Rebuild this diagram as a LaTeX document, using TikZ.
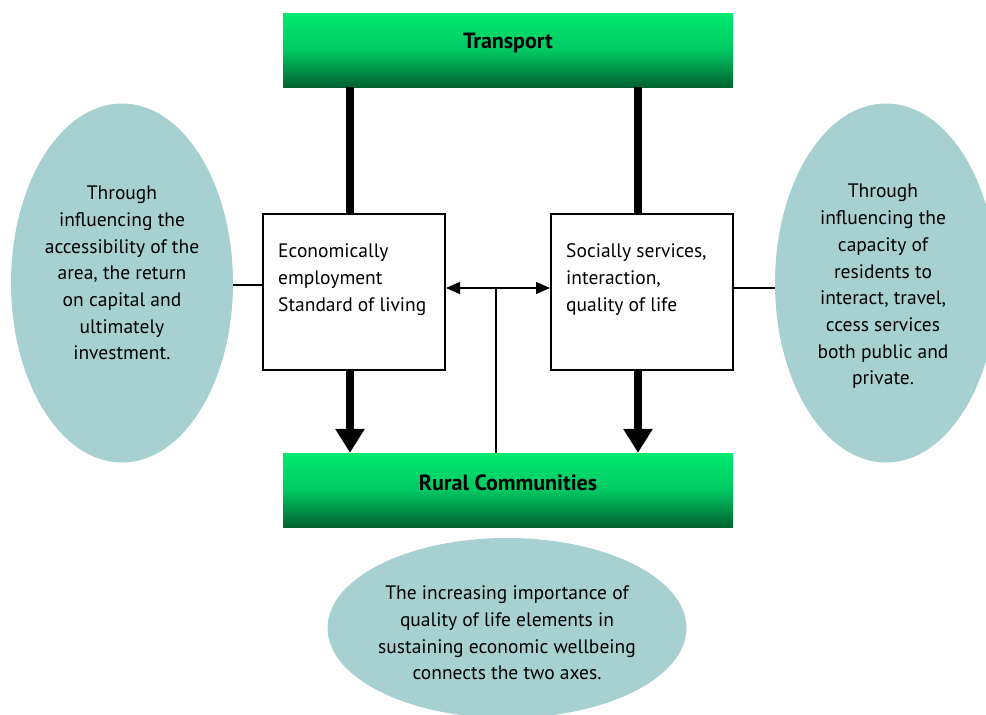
\documentclass[tikz,border=0pt]{standalone}
\usepackage{fontspec}
\setmainfont{PT Sans}
\usetikzlibrary{shapes.geometric,arrows.meta}
\definecolor{gtop}{RGB}{0,234,112}
\definecolor{gmid}{RGB}{0,200,98}
\definecolor{gbot}{RGB}{0,98,48}
\definecolor{oval}{RGB}{166,209,208}
\tikzset{
  greenbar/.style={rectangle, minimum width=450pt, minimum height=74pt, inner sep=0pt,
    top color=gtop, bottom color=gbot, middle color=gmid},
  bartext/.style={inner sep=0pt, font=\fontsize{22}{26}\selectfont\bfseries},
  midbox/.style={rectangle, draw=black, line width=2pt, fill=white, minimum width=182pt, minimum height=156pt, inner sep=0pt},
  boxtext/.style={anchor=north west, align=left, inner sep=0pt, font=\fontsize{19.5}{27}\selectfont},
  oval/.style={ellipse, fill=oval, inner sep=0pt},
  ovaltext/.style={align=center, inner sep=0pt, font=\fontsize{19.5}{26.7}\selectfont},
  thin/.style={line width=1.2pt, draw=black},
  thick/.style={line width=8pt, draw=black},
  bigarrow/.style={thick, -{Triangle[width=28pt,length=24pt]}},
  dblarrow/.style={thin, {Triangle[width=12pt,length=14pt]}-{Triangle[width=12pt,length=14pt]}}
}
\begin{document}
\begin{tikzpicture}[x=1pt,y=-1pt]
\useasboundingbox (0,0) rectangle (986,715);
\begin{scope}
\clip (0,0) rectangle (986,715);
% ellipses
\node[oval, minimum width=222pt, minimum height=359pt] (lell) at (122,283) {};
\node[oval, minimum width=222pt, minimum height=359pt] (rell) at (886,283) {};
\node[oval, minimum width=359pt, minimum height=180pt] (bell) at (507,628) {};
\end{scope}
\node[ovaltext] (lelltext) at (122,273)
  {Through\\influencing the\\accessibility of the\\area, the return\\on capital and\\ultimately\\investment.};
\node[ovaltext] (relltext) at (883,286.5)
  {Through\\influencing the\\capacity of\\residents to\\interact, travel,\\ccess services\\both public and\\private.};
\node[ovaltext] (belltext) at (507,633)
  {The increasing importance of\\quality of life elements in\\sustaining economic wellbeing\\connects the two axes.};
% green bars
\node[greenbar] (trans) at (508,50) {};
\node[greenbar] (rural) at (508,490) {};
\node[bartext] (transtext) at ([yshift=7pt]trans.center) {Transport};
\node[bartext] (ruraltext) at ([yshift=7pt]rural.center) {Rural Communities};
% boxes
\node[midbox] (lbox) at (354,292) {};
\node[midbox] (rbox) at (642,292) {};
\node[boxtext] (ltext) at ([xshift=16pt,yshift=-30pt]lbox.north west) {Economically\\employment\\Standard of living};
\node[boxtext] (rtext) at ([xshift=16pt,yshift=-30pt]rbox.north west) {Socially services,\\interaction,\\quality of life};
% thick connectors from transport
\coordinate (tl) at (350,87);
\coordinate (tr) at (638,87);
\draw[thick] (tl) -- (tl |- lbox.north);
\draw[thick] (tr) -- (tr |- rbox.north);
% thick arrows to rural
\draw[bigarrow] (tl |- lbox.south) -- (tl |- rural.north);
\draw[bigarrow] (tr |- rbox.south) -- (tr |- rural.north);
% double arrow and vertical
\coordinate (mid) at (496,288);
\draw[dblarrow] (lbox.east |- mid) -- (rbox.west |- mid);
\draw[thin] (mid) -- (mid |- rural.north);
% side connectors
\draw[thin] (lell.east |- 0,285) -- (lbox.west |- 0,285);
\draw[thin] (rbox.east |- mid) -- (rell.west |- mid);
\end{tikzpicture}
\end{document}
